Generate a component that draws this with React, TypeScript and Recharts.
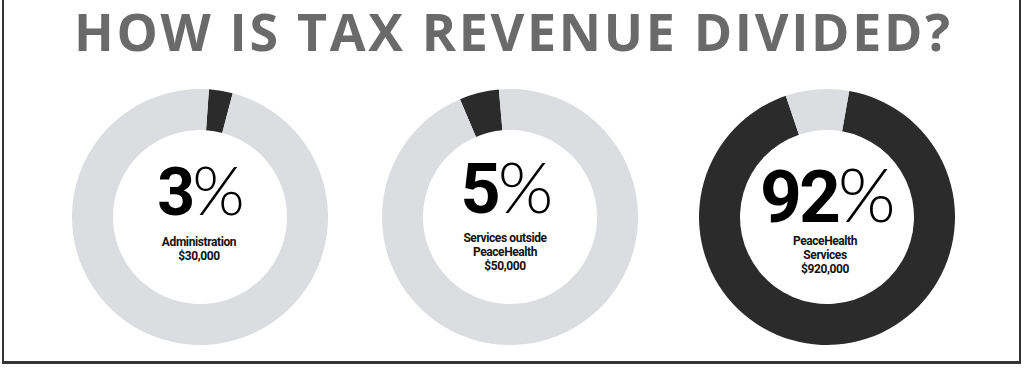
import { PieChart, Pie, Cell } from 'recharts';

const title = 'HOW IS TAX REVENUE DIVIDED?';

// share of revenue shown by the dark arc of each ring
const percents = [3, 5, 92];
const amounts = ['$30,000', '$50,000', '$920,000'];
const nameLines = [['Administration'], ['Services outside', 'PeaceHealth'], ['PeaceHealth', 'Services']];

const ringCx = [195, 505, 822];
const startAngles = [86, 113, 80];
const digitSizes = [66, 70, 73];

const LIGHT = '#dcdde1';
const DARK = '#2b2b2b';

const cy = 212;

export default function App() {
  return (
    <div style={{ position: 'relative', width: 1024, height: 369, background: '#fff', overflow: 'hidden' }}>
      <style>{`body{margin:0}`}</style>

      {/* frame */}
      <div style={{ position: 'absolute', left: 2, top: 0, width: 2, height: 364, background: '#333' }} />
      <div style={{ position: 'absolute', left: 1019, top: 0, width: 2, height: 364, background: '#333' }} />
      <div style={{ position: 'absolute', left: 2, top: 361, width: 1019, height: 3, background: '#333' }} />

      <PieChart width={1024} height={369} style={{ position: 'absolute', left: 0, top: 0 }}>
        {percents.map((p, i) => (
          <Pie
            key={i}
            data={[{ name: 'part', value: p }, { name: 'rest', value: 100 - p }]}
            dataKey="value"
            cx={ringCx[i]}
            cy={cy}
            innerRadius={87}
            outerRadius={128}
            startAngle={startAngles[i]}
            endAngle={startAngles[i] - 360}
            stroke="none"
            isAnimationActive={false}
          >
            <Cell fill={DARK} />
            <Cell fill={LIGHT} />
          </Pie>
        ))}
      </PieChart>

      <svg width={1024} height={369} style={{ position: 'absolute', left: 0, top: 0, pointerEvents: 'none' }}>
        <text
          x={74}
          y={51}
          textLength={876}
          lengthAdjust="spacing"
          fill="#6a6a6a"
          style={{ fontFamily: '"Open Sans", sans-serif', fontWeight: 700, fontSize: 52 }}
        >
          {title}
        </text>

        {percents.map((p, i) => {
          const base = [215, 213, 222][i];
          const lineStart = [242, 238, 241][i];
          const lines = [...nameLines[i], amounts[i]];
          const cx = ringCx[i] + [6, 2, 6][i];
          return (
            <g key={i}>
              <text x={cx} y={base} textAnchor="middle" fill="#000">
                <tspan style={{ fontFamily: 'Roboto, sans-serif', fontWeight: 700, fontSize: digitSizes[i], letterSpacing: -3 }}>{p}</tspan>
                <tspan style={{ fontFamily: 'Lato, sans-serif', fontWeight: 300, fontSize: digitSizes[i] * 1.02 }}>%</tspan>
              </text>
              {lines.map((l, j) => (
                <text
                  key={j}
                  x={ringCx[i] + [4, 0, 3][i]}
                  y={lineStart + j * 14 + 4}
                  textAnchor="middle"
                  fill="#111"
                  style={{ fontFamily: 'Roboto, sans-serif', fontWeight: 700, fontSize: 12, letterSpacing: -0.4 }}
                >
                  {l}
                </text>
              ))}
            </g>
          );
        })}
      </svg>
    </div>
  );
}
